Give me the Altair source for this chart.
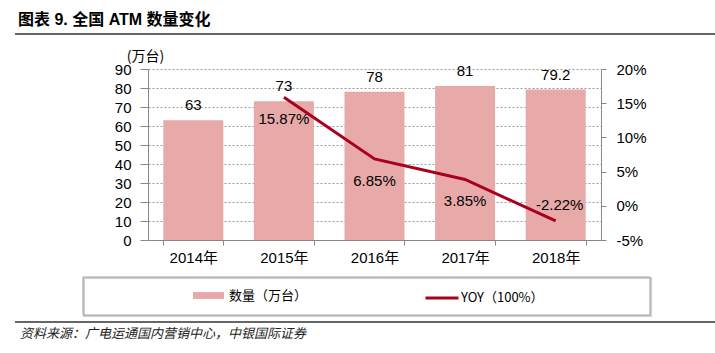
import altair as alt
import pandas as pd

# ---------------- data ----------------
years = ["2014年", "2015年", "2016年", "2017年", "2018年"]
atm_count = [63, 73, 78, 81, 79.2]
count_labels = ["63", "73", "78", "81", "79.2"]
yoy_years = ["2015年", "2016年", "2017年", "2018年"]
yoy_pct = [15.87, 6.85, 3.85, -2.22]
yoy_labels = ["15.87%", "6.85%", "3.85%", "-2.22%"]
left_ticks = [0, 10, 20, 30, 40, 50, 60, 70, 80, 90]
right_ticks = [-5, 0, 5, 10, 15, 20]
bar_series = "数量（万台）"
line_series = "YOY（100%）"
title_text = "图表 9. 全国 ATM 数量变化"
source_text = "资料来源：广电运通国内营销中心，中银国际证券"
unit_text = "(万台)"

bar_df = pd.DataFrame({"year": years, "count": atm_count, "label": count_labels,
                       "s": [bar_series] * len(years)})
yoy_df = pd.DataFrame({"year": yoy_years, "yoy": yoy_pct, "label": yoy_labels,
                       "s": [line_series] * len(yoy_years)})

# ---------------- layout ----------------
W, H = 453, 171
PL, PT = 148, 69
PR = 715 - PL - W
PB = 353 - PT - H

BAR = "#E8A9A9"
LINE = "#A8001E"
FONT = "Liberation Sans, Arial, Noto Sans CJK SC, sans-serif"
CJK = "Noto Sans CJK SC"
GRAY = "#888888"
LBL = 15

x_enc = alt.X(
    "year:N", sort=years,
    scale=alt.Scale(domain=years, paddingInner=0.34, paddingOuter=0.17),
    axis=alt.Axis(title=None, labelAngle=0, tickBand="extent", tickSize=5,
                  labelPadding=5, grid=False, domainColor=GRAY, tickColor=GRAY,
                  labelOverlap=False, labelFontSize=LBL),
)

y_left = alt.Y(
    "count:Q", scale=alt.Scale(domain=[0, 90], nice=False),
    axis=alt.Axis(values=left_ticks, tickCount=10, title=unit_text, titleAngle=0,
                  titleX=-3, titleY=-13,
                  titleAlign="center", titleBaseline="middle", titleFont=CJK,
                  titleFontSize=14, titleFontWeight="normal", titleColor="#000",
                  grid=True, gridDash=[2, 2], gridColor="#9a9a9a", tickSize=8,
                  labelPadding=9, domainColor=GRAY, tickColor=GRAY,
                  labelOverlap=False, labelFontSize=LBL),
)

bars = alt.Chart(bar_df).mark_bar(size=60).encode(
    x=x_enc, y=y_left,
    fill=alt.Fill("s:N", scale=alt.Scale(domain=[bar_series], range=[BAR]),
                  legend=alt.Legend(title=None, orient="none", legendX=45, legendY=211,
                                    symbolType="M-1,-0.22H1V0.22H-1Z", symbolSize=961,
                                    symbolStrokeWidth=0, labelFont=CJK, labelFontSize=13,
                                    labelOffset=5, labelColor="#000")),
)
bar_text = alt.Chart(bar_df).mark_text(dy=-15, baseline="middle", fontSize=LBL, font=FONT,
                                       color="#000").encode(
    x=alt.X("year:N", sort=years), y=alt.Y("count:Q"), text="label:N")
bar_layer = alt.layer(bars, bar_text)

y_right = alt.Y(
    "yoy:Q", scale=alt.Scale(domain=[-5, 20], nice=False),
    axis=alt.Axis(orient="right", values=right_ticks, tickCount=6,
                  labelExpr="datum.value + '%'",
                  title=None, grid=False, tickSize=5, labelPadding=10,
                  domainColor=GRAY, tickColor=GRAY, labelOverlap=False,
                  labelFontSize=LBL),
)
line = alt.Chart(yoy_df).mark_line(strokeWidth=3).encode(
    x=alt.X("year:N", sort=years), y=y_right,
    stroke=alt.Stroke("s:N", scale=alt.Scale(domain=[line_series], range=[LINE]),
                      legend=alt.Legend(title=None, orient="none", legendX=276, legendY=211,
                                        symbolType="stroke", symbolSize=1089,
                                        symbolStrokeWidth=3, labelFont=CJK,
                                        labelFontSize=13, labelOffset=1, labelColor="#000")),
)
pos_text = alt.Chart(yoy_df).transform_filter("datum.yoy >= 0").mark_text(
    dy=22, fontSize=LBL, font=FONT, color="#000").encode(
    x=alt.X("year:N", sort=years), y=alt.Y("yoy:Q"), text="label:N")
neg_text = alt.Chart(yoy_df).transform_filter("datum.yoy < 0").mark_text(
    dy=-16, dx=4, fontSize=LBL, font=FONT, color="#000").encode(
    x=alt.X("year:N", sort=years), y=alt.Y("yoy:Q"), text="label:N")
line_layer = alt.layer(line, pos_text, neg_text)

# ---------------- decorations ----------------
one = pd.DataFrame({"t": [title_text]})
title = alt.Chart(one).mark_text(align="left", baseline="middle", fontSize=16,
                                 fontWeight="bold", font=FONT, color="#000").encode(
    x=alt.value(-130), y=alt.value(-49), text="t:N")
top_rule = alt.Chart(one).mark_rule(color="#333", strokeWidth=1.5).encode(
    x=alt.value(-133), x2=alt.value(567), y=alt.value(-35))
bottom_rule = alt.Chart(one).mark_rule(color="#333", strokeWidth=1.5).encode(
    x=alt.value(-133), x2=alt.value(567), y=alt.value(253))
box_shadow = alt.Chart(one).mark_rect(fillOpacity=0, stroke="#d0d0d0", strokeWidth=2).encode(
    x=alt.value(-64), x2=alt.value(503), y=alt.value(209), y2=alt.value(247))
box = alt.Chart(one).mark_rect(fillOpacity=0, stroke="#a0a0a0", strokeWidth=1).encode(
    x=alt.value(-65), x2=alt.value(502), y=alt.value(208), y2=alt.value(246))
src = alt.Chart(pd.DataFrame({"t": [source_text]})).mark_text(
    align="left", baseline="middle", fontSize=13, font=CJK, fontStyle="italic",
    color="#222").encode(x=alt.value(-128), y=alt.value(265), text="t:N")

chart = alt.layer(
    box_shadow, box, bar_layer, line_layer, title, top_rule, bottom_rule, src
).resolve_scale(y="independent", fill="independent", stroke="independent").properties(
    width=W, height=H,
    padding={"left": PL, "top": PT, "right": PR, "bottom": PB},
    autosize=alt.AutoSizeParams(type="none"),
).configure_view(stroke=None).configure_axis(
    labelFont=FONT, labelFontSize=LBL, labelColor="#000"
)

chart.save("out.html", embed_options={"renderer": "svg", "actions": False})
